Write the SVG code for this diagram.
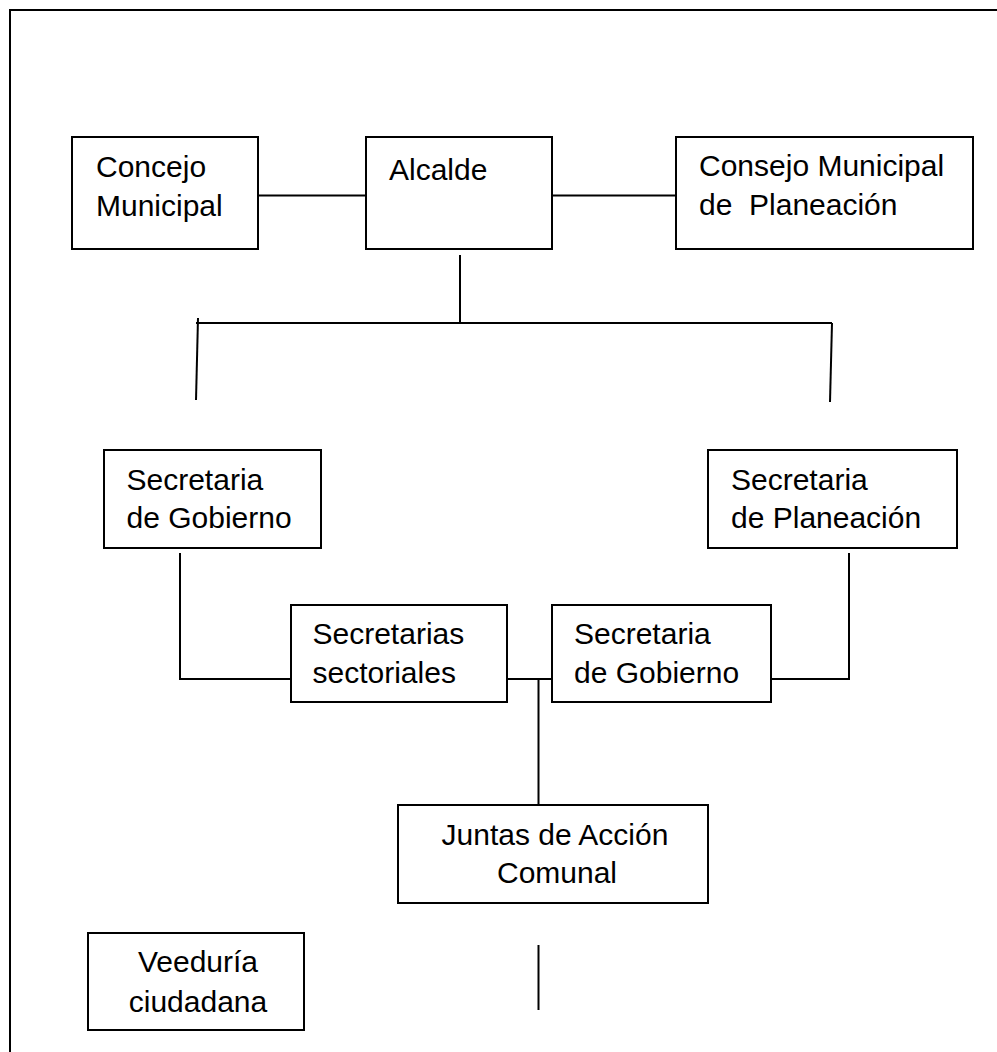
<svg xmlns="http://www.w3.org/2000/svg" width="997" height="1052" viewBox="0 0 997 1052">
<style>
.box{fill:#fff;stroke:#000;stroke-width:2}
.ln{fill:none;stroke:#000;stroke-width:2}
text{font-family:"Liberation Sans",Arial,sans-serif;font-size:30px;fill:#000}
.c{text-anchor:middle}
</style>
<rect x="0" y="0" width="997" height="1052" fill="#fff"/>
<rect id="frame" x="10" y="10" width="1000" height="1100" fill="none" stroke="#000" stroke-width="2"/>
<g id="connectors">
<line class="ln" x1="258" y1="195.5" x2="366" y2="195.5"/>
<line class="ln" x1="552" y1="195.5" x2="676" y2="195.5"/>
<line class="ln" x1="460" y1="255" x2="460" y2="323"/>
<line class="ln" x1="196" y1="323" x2="832" y2="323"/>
<line class="ln" x1="198" y1="318" x2="196" y2="400"/>
<line class="ln" x1="832" y1="323" x2="830" y2="402"/>
<polyline class="ln" points="180,553 180,679 291,679"/>
<polyline class="ln" points="849,553 849,679 771,679"/>
<line class="ln" x1="507" y1="679" x2="552" y2="679"/>
<line class="ln" x1="538.5" y1="679" x2="538.5" y2="805"/>
<line class="ln" x1="538.5" y1="945" x2="538.5" y2="1010"/>
</g>
<g id="concejo">
<rect class="box" x="72" y="137" width="186" height="112"/>
<text x="96" y="176.5">Concejo</text>
<text x="96" y="215.5">Municipal</text>
</g>
<g id="alcalde">
<rect class="box" x="366" y="137" width="186" height="112"/>
<text x="389" y="180">Alcalde</text>
</g>
<g id="consejo-planeacion">
<rect class="box" x="676" y="137" width="297" height="112"/>
<text x="699" y="176">Consejo Municipal</text>
<text x="699" y="215" xml:space="preserve">de  Planeación</text>
</g>
<g id="sec-gobierno-1">
<rect class="box" x="104" y="450" width="217" height="98"/>
<text x="126.5" y="490">Secretaria</text>
<text x="126.5" y="528">de Gobierno</text>
</g>
<g id="sec-planeacion">
<rect class="box" x="708" y="450" width="249" height="98"/>
<text x="731" y="490">Secretaria</text>
<text x="731" y="528">de Planeación</text>
</g>
<g id="sec-sectoriales">
<rect class="box" x="291" y="605" width="216" height="97"/>
<text x="312.5" y="644">Secretarias</text>
<text x="312.5" y="683">sectoriales</text>
</g>
<g id="sec-gobierno-2">
<rect class="box" x="552" y="605" width="219" height="97"/>
<text x="574" y="644">Secretaria</text>
<text x="574" y="683">de Gobierno</text>
</g>
<g id="juntas">
<rect class="box" x="398" y="805" width="310" height="98"/>
<text class="c" x="555" y="845">Juntas de Acción</text>
<text class="c" x="557" y="883">Comunal</text>
</g>
<g id="veeduria">
<rect class="box" x="88" y="933" width="216" height="97"/>
<text class="c" x="198" y="971.5">Veeduría</text>
<text class="c" x="198" y="1011.5">ciudadana</text>
</g>
</svg>
